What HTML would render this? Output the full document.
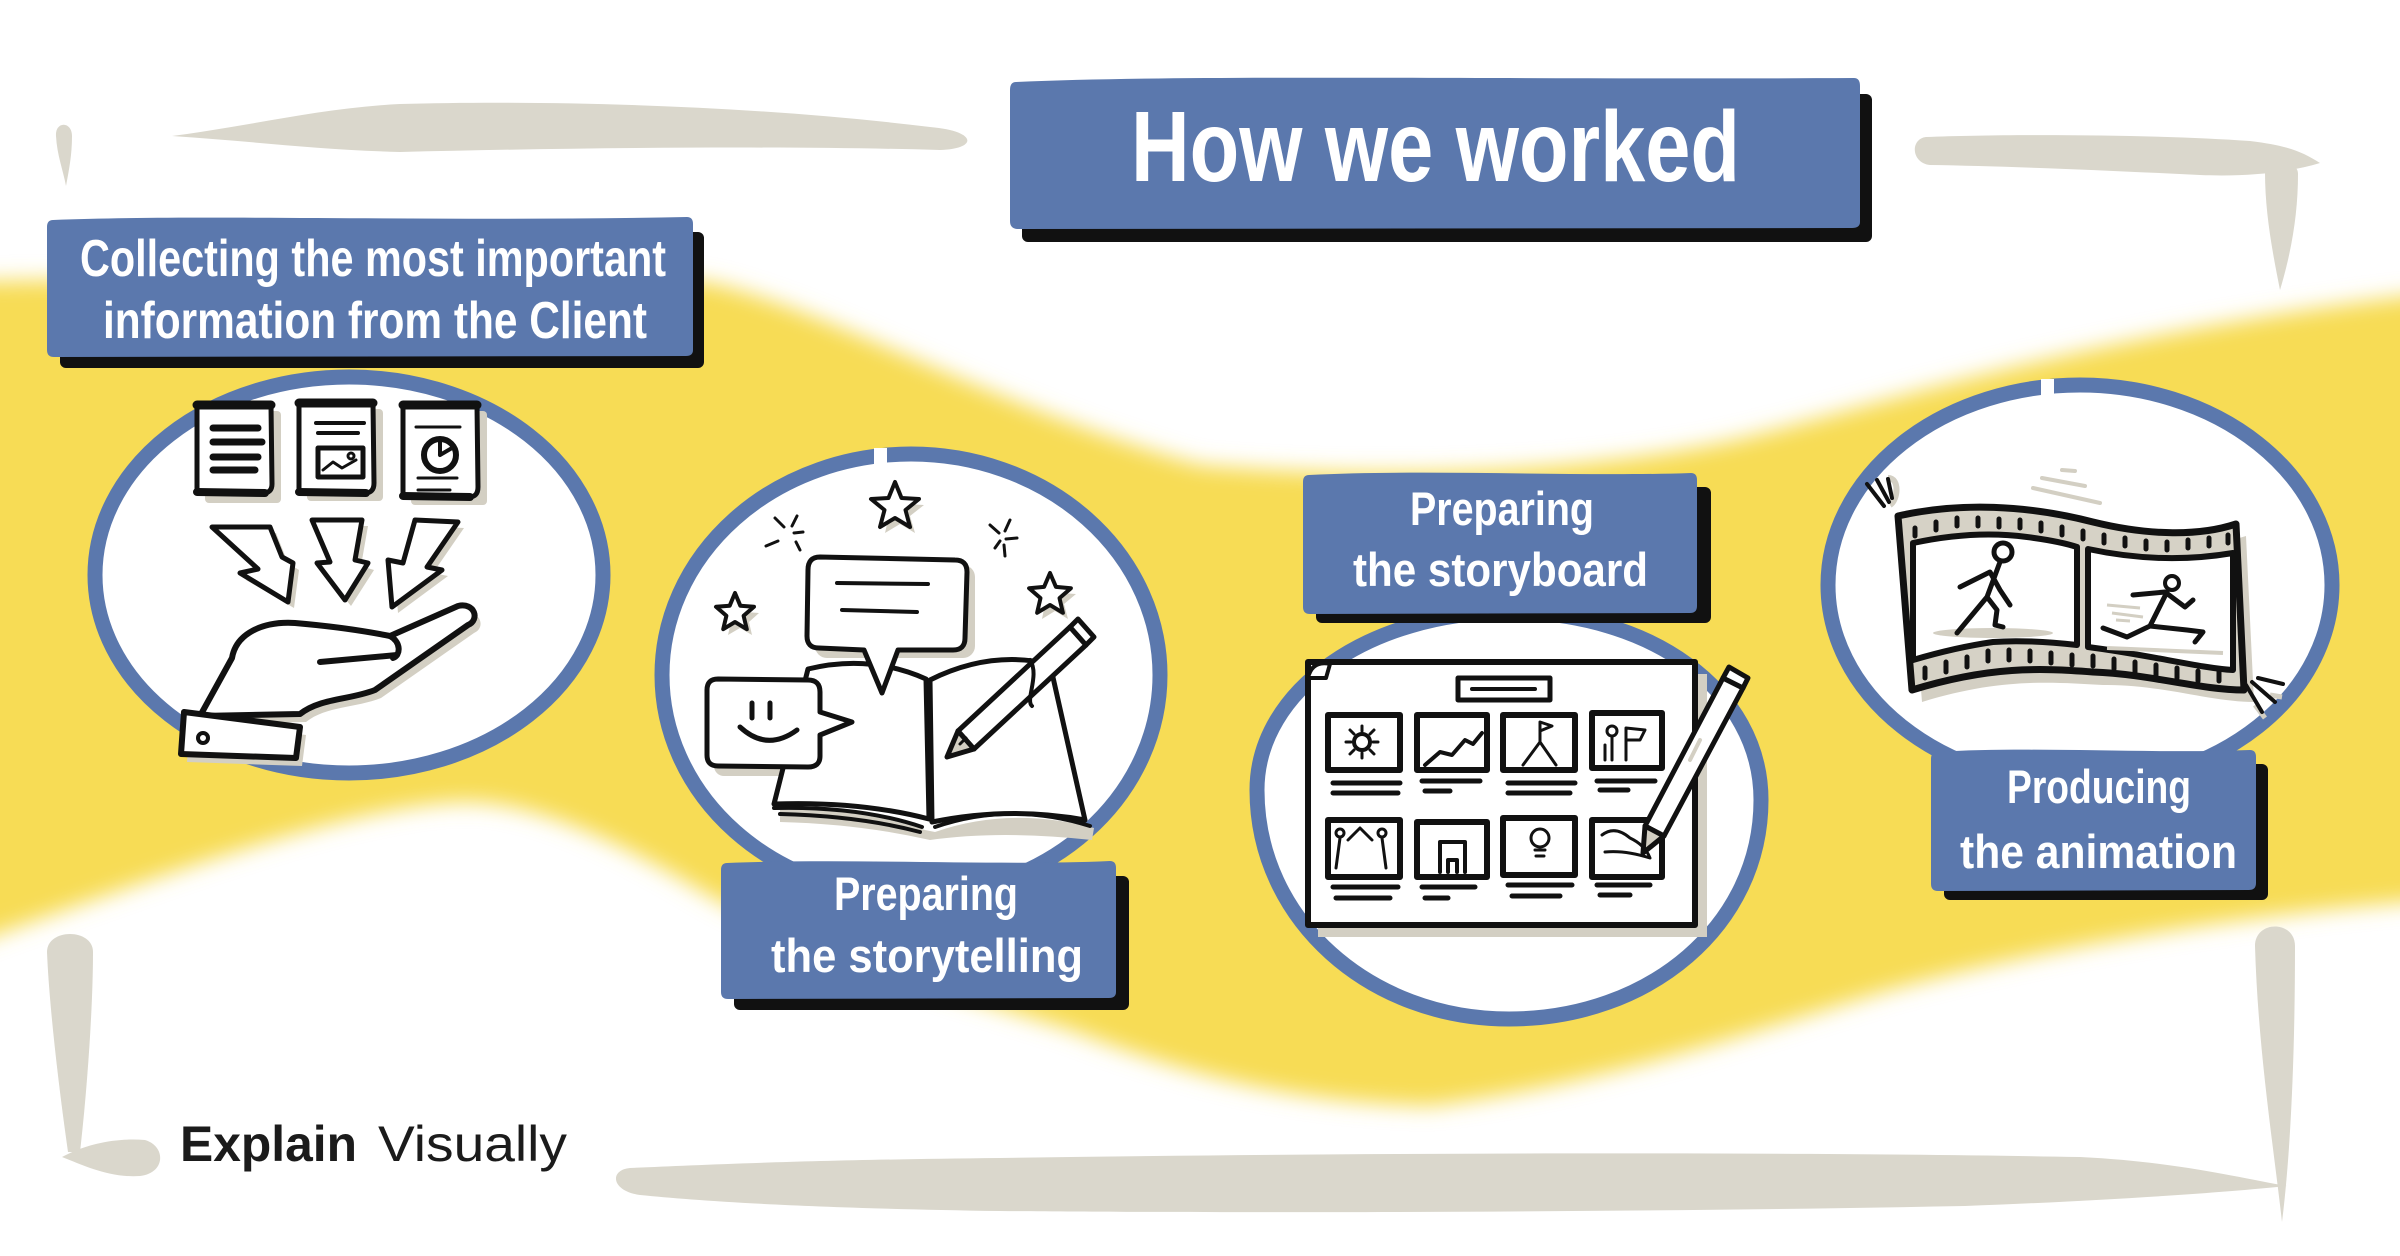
<!DOCTYPE html>
<html>
<head>
<meta charset="utf-8">
<style>
html,body{margin:0;padding:0;background:#fff;}
body{width:2400px;height:1256px;overflow:hidden;}
svg{display:block;}
.lbl{font-family:"Liberation Sans",sans-serif;font-weight:bold;fill:#fff;}
.ink{fill:none;stroke:#111;stroke-linecap:round;stroke-linejoin:round;}
</style>
</head>
<body>
<svg width="2400" height="1256" viewBox="0 0 2400 1256" xmlns="http://www.w3.org/2000/svg">
<defs>
<filter id="bl" x="-10%" y="-20%" width="120%" height="140%"><feGaussianBlur stdDeviation="11"/></filter>
</defs>
<rect width="2400" height="1256" fill="#fff"/>

<!-- yellow band -->
<path filter="url(#bl)" fill="#f7dc55" d="M -60,282 L 300,276 C 500,272 640,268 720,285 C 850,320 1000,410 1200,465 C 1400,482 1600,470 1736,440 C 1900,400 2100,330 2460,290 L 2460,898 C 2200,915 2000,960 1889,990 C 1750,1032 1600,1085 1430,1106 C 1300,1102 1200,1080 1071,1030 C 950,992 800,950 700,890 C 600,830 520,800 459,802 C 350,808 200,860 -60,955 Z"/>

<!-- grey frame strokes -->
<g fill="#dad7cc">
<path d="M172,136 C 250,126 320,108 400,104 C 550,100 750,105 930,127 C 978,131 978,149 940,150 C 800,146 600,147 400,152 C 320,150 250,141 172,136 Z"/>
<path d="M56,136 C 55,121 72,121 72,136 C 72,155 69,170 66,186 C 63,170 57,155 56,136 Z"/>
<path d="M1926,137 C 2000,134 2150,134 2250,141 C 2290,146 2302,152 2320,163 C 2290,172 2250,177 2200,175 C 2100,170 2000,166 1930,165 C 1911,163 1910,139 1926,137 Z"/>
<path d="M2265,172 C 2266,158 2298,158 2298,174 C 2298,212 2292,250 2280,290 C 2272,250 2265,212 2265,172 Z"/>
<path d="M47,952 C 47,928 93,928 93,952 C 93,1002 88,1082 80,1152 L 68,1152 C 58,1082 49,1002 47,952 Z"/>
<path d="M62,1157 C 90,1142 120,1138 145,1140 C 166,1146 166,1173 140,1176 C 110,1178 85,1166 62,1157 Z"/>
<path d="M630,1168 C 700,1165 800,1160 1000,1158 C 1400,1152 1800,1152 2080,1157 C 2180,1162 2240,1178 2287,1186 C 2220,1193 2100,1201 1965,1206 C 1600,1213 1200,1213 1000,1211 C 800,1208 700,1201 640,1195 C 611,1191 609,1170 630,1168 Z"/>
<path d="M2255,946 C 2255,920 2295,920 2295,946 C 2295,1050 2291,1150 2282,1222 C 2274,1150 2258,1050 2255,946 Z"/>
</g>

<!-- circles -->
<g fill="#fff" stroke="#5b78ad" stroke-width="15">
<ellipse cx="349" cy="575" rx="254" ry="198"/>
<ellipse cx="911" cy="675" rx="249" ry="221"/>
<path d="M1257,790 C 1257,690 1370,612 1509,612 C 1650,612 1761,690 1761,800 C 1761,925 1650,1019 1509,1019 C 1370,1019 1257,920 1257,790 Z"/>
<ellipse cx="2080" cy="585" rx="252" ry="200"/>
</g>
<rect x="874" y="448" width="13" height="18" fill="#fff"/>
<rect x="2041" y="379" width="13" height="18" fill="#fff"/>

<!-- ===== Circle 1 icons ===== -->
<g fill="#d3cfc3">
<rect x="205" y="411" width="76" height="92" rx="4"/>
<rect x="307" y="409" width="76" height="92" rx="4"/>
<rect x="411" y="411" width="76" height="94" rx="4"/>
<polygon points="218,533 276,533 288,563 299,570 294,608 246,580 264,576"/>
<polygon points="318,526 368,526 361,566 374,570 351,606 322,570 336,568"/>
<polygon points="421,526 464,528 433,573 448,576 398,613 394,566 409,570"/>
<path d="M206,724 L238,666 C 242,642 268,629 301,631 C 336,634 366,638 396,644 L464,614 C 481,610 486,628 474,633 L381,698 C 356,708 326,706 306,722 Z"/>
<path d="M190,720 L306,735 L302,766 L187,762 Z"/>
</g>
<g class="ink" stroke-width="5" fill="#fff">
<path d="M197,405 L271,405 L272,484 Q272,493 263,493 L197,492 Z" fill="#fff"/>
<path d="M299,403 L373,403 L374,483 Q374,493 365,493 L299,492 Z" fill="#fff"/>
<path d="M403,405 L477,405 L478,487 Q478,497 469,497 L403,496 Z" fill="#fff"/>
</g>
<g class="ink">
<path d="M197,405 L271,405 M299,403 L373,403 M403,405 L477,405" stroke-width="9"/>
<path d="M197,492 L265,493 M299,492 L366,493 M403,496 L470,497" stroke-width="8"/>
<path d="M213,428 L258,428 M213,442 L262,442 M213,457 L258,457 M213,470 L255,470" stroke-width="7"/>
<path d="M316,423 L364,423 M318,433 L358,433" stroke-width="4"/>
<rect x="318" y="448" width="45" height="29" stroke-width="5"/>
<path d="M323,470 L333,462 L342,468 L356,460" stroke-width="3"/>
<circle cx="351" cy="456" r="3" stroke-width="3"/>
<path d="M416,427 L460,427 M418,478 L457,478 M418,490 L450,490" stroke-width="3"/>
<circle cx="440" cy="455" r="16" stroke-width="6"/>
<path d="M440,455 L440,441 M440,455 L452,448" stroke-width="4"/>
</g>
<g class="ink" stroke-width="5" fill="#fff">
<polygon points="212,527 270,527 282,557 293,563 288,602 240,573 258,569" fill="#fff"/>
<polygon points="312,520 362,520 355,560 368,563 345,600 317,563 330,562" fill="#fff"/>
<polygon points="415,520 458,522 427,567 442,570 392,607 388,560 403,563" fill="#fff"/>
</g>
<g class="ink" stroke-width="6">
<path d="M200,716 L232,658 C 236,634 262,621 295,623 C 330,626 360,630 390,636 L458,606 C 475,602 480,620 468,625 L375,690 C 350,700 320,698 300,714 Z" fill="#fff"/>
<path d="M320,662 L397,655"/>
<path d="M390,636 C 401,642 401,655 393,658"/>
<path d="M184,712 L300,727 L296,758 L181,754 Z" fill="#fff"/>
<circle cx="203" cy="738" r="5" stroke-width="4"/>
</g>

<!-- ===== Circle 2 icons ===== -->
<g fill="#d3cfc3">
<polygon points="900,488 906,504 924,505 910,516 915,533 900,524 885,533 889,516 876,505 893,504"/>
<polygon points="740,599 745,612 759,613 749,622 752,635 740,628 728,635 731,622 721,613 735,612"/>
<polygon points="1055,579 1061,593 1076,594 1064,604 1068,619 1055,611 1042,619 1045,604 1034,594 1049,593"/>
<path d="M780,810 Q 860,808 925,830 L 935,832 Q 1010,806 1094,828 L 1092,840 Q 1000,830 930,840 Q 860,824 780,822 Z"/>
<rect x="815" y="565" width="160" height="93" rx="12"/>
<rect x="714" y="686" width="114" height="90" rx="10"/>
</g>
<g class="ink" stroke-width="5">
<path d="M808,669 Q 870,654 926,679 L 929,819 Q 860,801 774,804 Z" fill="#fff"/>
<path d="M930,680 Q 990,650 1050,664 L 1085,820 Q 1010,806 932,822 Z" fill="#fff"/>
<path d="M774,808 Q 860,806 922,827 M780,814 Q 860,816 920,832 M935,827 Q 1010,801 1090,826" stroke-width="4"/>
<path d="M718,679 L808,680 Q 820,680 820,692 L820,712 L852,722 L820,735 L820,756 Q 820,767 808,767 L718,766 Q 707,766 707,755 L707,690 Q 707,679 718,679 Z" fill="#fff"/>
<path d="M752,703 L752,718 M770,703 L770,718" stroke-width="5"/>
<path d="M740,727 Q 767,752 797,730" stroke-width="5"/>
<path d="M820,557 L955,560 Q 967,560 967,572 L965,638 Q 965,650 953,650 L898,650 L882,693 L864,650 L819,648 Q 807,648 807,636 L808,570 Q 808,557 820,557 Z" fill="#fff"/>
<path d="M837,583 L928,584 M842,610 L917,612" stroke-width="4"/>
<polygon points="895,482 901.5,498 919,499 905.5,510 910,527 895,518 880,527 884.5,510 871,499 888.5,498" fill="#fff" stroke-width="4"/>
<polygon points="735,593 740.3,605.7 754,606.8 743.6,615.8 746.8,629.2 735,622 723.2,629.2 726.4,615.8 716,606.8 729.7,605.7" fill="#fff" stroke-width="4"/>
<polygon points="1050,573 1055.9,586.9 1070.9,588.2 1059.5,598.1 1062.9,612.8 1050,605 1037.1,612.8 1040.5,598.1 1029.1,588.2 1044.1,586.9" fill="#fff" stroke-width="4"/>
<path d="M775,518 L784,527 M797,516 L792,526 M803,532 L794,533 M766,546 L778,541 M796,542 L800,550" stroke-width="3"/>
<path d="M990,525 L999,533 M1010,520 L1005,531 M1017,538 L1006,539 M995,548 L1000,541 M1004,545 L1005,556" stroke-width="3"/>
</g>
<g class="ink" stroke-width="5">
<polygon points="974,749 958,731 1070,627 1086,645" fill="#fff"/>
<polygon points="947,757 958,731 974,749" fill="#d3cfc3"/>
<polygon points="1070,627 1086,645 1094,637 1078,619" fill="#fff"/>
<path d="M960,744 L966,738" stroke-width="3"/>
<path d="M1030,660 C 1040,675 1025,700 1032,706" stroke-width="4"/>
</g>

<!-- ===== Circle 3 icons ===== -->
<rect x="1318" y="674" width="389" height="263" fill="#d3cfc3"/>
<g class="ink" stroke-width="6">
<rect x="1308" y="662" width="387" height="263" fill="#fff"/>
<path d="M1308,678 Q 1312,660 1330,664 L1326,678 Z" fill="#fff" stroke-width="4"/>
<rect x="1458" y="678" width="92" height="22" stroke-width="5"/>
<path d="M1472,689 L1535,689" stroke-width="4"/>
<rect x="1328" y="715" width="72" height="55"/>
<rect x="1417" y="715" width="70" height="55"/>
<rect x="1503" y="715" width="72" height="55"/>
<rect x="1592" y="713" width="70" height="55"/>
<rect x="1328" y="820" width="72" height="57"/>
<rect x="1417" y="822" width="70" height="55"/>
<rect x="1503" y="818" width="72" height="57"/>
<rect x="1592" y="820" width="70" height="57"/>
<path d="M1333,783 L1400,783 M1333,793 L1398,793 M1422,781 L1480,781 M1425,791 L1450,791 M1508,783 L1575,783 M1508,793 L1570,793 M1597,781 L1655,781 M1600,790 L1628,790" stroke-width="5"/>
<path d="M1333,887 L1398,887 M1336,898 L1390,898 M1422,887 L1475,887 M1425,898 L1448,898 M1508,885 L1572,885 M1512,896 L1560,896 M1597,885 L1650,885 M1600,895 L1630,895" stroke-width="5"/>
<circle cx="1362" cy="742" r="8" stroke-width="4"/>
<path d="M1362,726 L1362,731 M1362,753 L1362,758 M1346,742 L1351,742 M1373,742 L1378,742 M1350,730 L1354,734 M1370,750 L1374,754 M1374,730 L1370,734 M1354,750 L1350,754" stroke-width="3"/>
<path d="M1425,765 L1440,752 L1452,755 L1465,740 L1473,744 L1482,733" stroke-width="4"/>
<path d="M1523,765 L1540,742 L1556,765 M1540,742 L1540,722 L1552,726 L1540,731" stroke-width="3"/>
<circle cx="1612" cy="731" r="5" stroke-width="3"/>
<path d="M1612,737 L1612,760 M1605,745 L1605,760 M1626,760 L1626,728 L1645,730 L1640,740 L1626,740" stroke-width="3"/>
<circle cx="1340" cy="833" r="4" stroke-width="3"/>
<circle cx="1382" cy="833" r="4" stroke-width="3"/>
<path d="M1340,838 L1336,868 M1382,838 L1386,868 M1348,840 L1360,828 L1372,840" stroke-width="3"/>
<path d="M1440,872 L1440,842 L1465,842 L1465,872 M1448,872 L1448,860 L1457,860 L1457,872" stroke-width="4"/>
<circle cx="1540" cy="838" r="9" stroke-width="3"/>
<path d="M1535,850 L1545,850 M1536,856 L1544,856" stroke-width="3"/>
<path d="M1602,835 Q 1615,825 1630,838 Q 1645,845 1650,858 Q 1625,850 1605,852" stroke-width="3"/>
</g>
<g class="ink" stroke-width="5">
<polygon points="1664,836 1645,826 1723,678 1743,688" fill="#fff"/>
<polygon points="1643,853 1645,826 1664,836" fill="#d3cfc3"/>
<polygon points="1723,678 1743,688 1748,678 1729,667" fill="#fff"/>
<path d="M1700,740 L1690,760" stroke="#d3cfc3" stroke-width="4"/>
</g>

<!-- ===== Circle 4 icons ===== -->
<path d="M1908,528 C 1970,514 2037,517 2103,534 C 2160,548 2210,548 2246,536 L2254,702 C 2210,702 2160,684 2103,685 C 2050,682 2000,678 1922,702 Z" fill="#d3cfc3"/>
<path d="M1898,516 C 1960,502 2027,505 2093,522 C 2150,536 2200,536 2236,524 L2244,690 C 2200,690 2150,674 2093,672 C 2040,668 1990,666 1912,690 Z" fill="#d6d2c6" stroke="#111" stroke-width="7" stroke-linejoin="round"/>
<g class="ink" stroke-width="5">
<path d="M1915,528 L1915,536 M1936,522 L1936,530 M1957,518 L1957,526 M1978,518 L1978,526 M1999,519 L1999,527 M2020,520 L2020,528 M2041,523 L2041,531 M2062,527 L2062,535 M2083,531 L2083,539 M2104,535 L2104,543 M2125,538 L2125,546 M2146,541 L2146,549 M2167,542 L2167,550 M2188,540 L2188,548 M2209,538 L2209,546 M2228,535 L2228,543" stroke-width="5"/>
<path d="M1925,668 L1925,678 M1946,662 L1946,672 M1967,657 L1967,667 M1988,651 L1988,661 M2009,650 L2009,660 M2030,651 L2030,661 M2051,653 L2051,663 M2072,655 L2072,665 M2093,656 L2093,666 M2114,659 L2114,669 M2135,662 L2135,672 M2156,665 L2156,675 M2177,668 L2177,678 M2198,671 L2198,681 M2219,671 L2219,681" stroke-width="5"/>
<path d="M1913,543 C 1950,535 1990,532 2027,537 C 2050,540 2065,543 2077,547 L2077,645 C 2050,642 2020,640 1993,642 C 1965,646 1940,652 1913,660 Z" fill="#fff" stroke-width="6"/>
<path d="M2088,549 C 2130,558 2180,562 2233,553 L2233,670 C 2200,668 2150,655 2088,647 Z" fill="#fff" stroke-width="6"/>
</g>
<g fill="#d3cfc3">
<ellipse cx="1993" cy="633" rx="60" ry="5"/>
<path d="M2107,648 L2223,653" stroke="#d3cfc3" stroke-width="4"/>
<path d="M2107,605 L2140,608 M2112,613 L2143,617 M2116,620 L2130,621" stroke="#d3cfc3" stroke-width="3"/>
<path d="M2033,488 L2100,503 M2042,478 L2085,486 M2062,470 L2075,471" stroke="#d3cfc3" stroke-width="4" stroke-linecap="round"/>
<path d="M1888,478 C 1900,478 1898,500 1890,505" stroke="#d3cfc3" stroke-width="6" fill="none"/>
<path d="M2255,705 L2265,718 M2270,695 L2282,697" stroke="#d3cfc3" stroke-width="5"/>
</g>
<g class="ink" stroke-width="5">
<circle cx="2003" cy="552" r="9" fill="#fff"/>
<path d="M2000,562 L1987,597 L1957,633 M1987,597 L1997,610 L1995,625 L2003,627 M1960,587 L1990,572 L2000,590 L2010,605"/>
<circle cx="2172" cy="583" r="7" fill="#fff" stroke-width="4"/>
<path d="M2167,592 L2150,626 L2127,637 L2103,628 M2150,626 L2187,630 L2203,632 L2195,642 M2133,595 L2165,592 L2185,607 L2193,600"/>
<path d="M1867,484 L1884,506 M1877,480 L1889,502 M1888,479 L1892,498" stroke-width="4"/>
<path d="M2246,685 L2262,712 M2252,682 L2275,702 M2258,678 L2283,684" stroke-width="4"/>
</g>

<!-- ===== label boxes ===== -->
<g fill="#111">
<rect x="1022" y="94" width="850" height="148" rx="6"/>
<rect x="60" y="232" width="644" height="136" rx="6"/>
<rect x="734" y="876" width="395" height="134" rx="6"/>
<rect x="1316" y="487" width="395" height="136" rx="6"/>
<rect x="1944" y="764" width="324" height="136" rx="6"/>
</g>
<g fill="#5b78ad">
<path d="M1016,82 C 1200,74 1500,80 1854,78 Q 1860,78 1860,86 L1860,222 Q 1860,228 1852,228 L1018,229 Q 1010,229 1010,221 L1010,90 Q 1010,82 1016,82 Z"/>
<path d="M53,220 C 200,214 450,222 687,217 Q 693,217 693,224 L693,350 Q 693,356 686,356 L54,357 Q 47,357 47,350 L47,227 Q 47,220 53,220 Z"/>
<path d="M727,863 C 850,858 1000,866 1110,861 Q 1116,861 1116,868 L1116,992 Q 1116,998 1109,998 L728,999 Q 721,999 721,992 L721,870 Q 721,863 727,863 Z"/>
<path d="M1309,475 C 1430,469 1580,477 1691,473 Q 1697,473 1697,480 L1697,606 Q 1697,613 1690,613 L1310,614 Q 1303,614 1303,607 L1303,482 Q 1303,475 1309,475 Z"/>
<path d="M1937,752 C 2030,746 2150,754 2250,750 Q 2256,750 2256,757 L2256,883 Q 2256,890 2249,890 L1938,891 Q 1931,891 1931,884 L1931,759 Q 1931,752 1937,752 Z"/>
</g>

<!-- ===== text ===== -->
<text class="lbl" x="1131" y="181" font-size="100" textLength="609" lengthAdjust="spacingAndGlyphs">How we worked</text>
<text class="lbl" x="80" y="276" font-size="52" textLength="586" lengthAdjust="spacingAndGlyphs">Collecting the most important</text>
<text class="lbl" x="103" y="338" font-size="52" textLength="544" lengthAdjust="spacingAndGlyphs">information from the Client</text>
<text class="lbl" x="834" y="910" font-size="47" textLength="184" lengthAdjust="spacingAndGlyphs">Preparing</text>
<text class="lbl" x="771" y="972" font-size="47" textLength="312" lengthAdjust="spacingAndGlyphs">the storytelling</text>
<text class="lbl" x="1410" y="525" font-size="47" textLength="184" lengthAdjust="spacingAndGlyphs">Preparing</text>
<text class="lbl" x="1353" y="586" font-size="47" textLength="295" lengthAdjust="spacingAndGlyphs">the storyboard</text>
<text class="lbl" x="2007" y="803" font-size="47" textLength="184" lengthAdjust="spacingAndGlyphs">Producing</text>
<text class="lbl" x="1960" y="868" font-size="47" textLength="277" lengthAdjust="spacingAndGlyphs">the animation</text>

<text x="180" y="1161" font-family="Liberation Sans, sans-serif" font-weight="bold" font-size="50" fill="#1b1b1b" textLength="177" lengthAdjust="spacingAndGlyphs">Explain</text>
<text x="378" y="1161" font-family="Liberation Sans, sans-serif" font-size="50" fill="#1b1b1b" textLength="189" lengthAdjust="spacingAndGlyphs">Visually</text>
</svg>
</body>
</html>
